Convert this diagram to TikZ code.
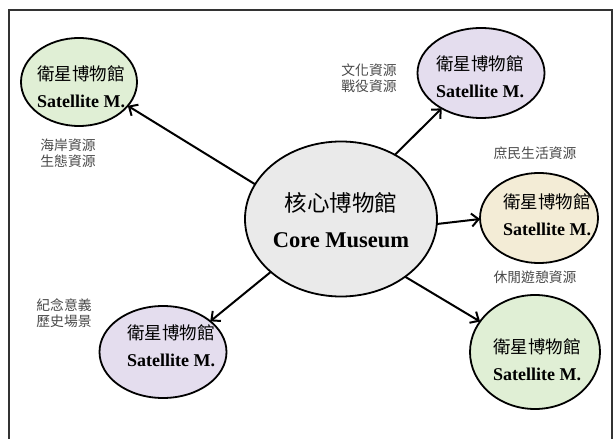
\documentclass[tikz,border=0pt]{standalone}
\usepackage{fontspec}
\setmainfont{Liberation Serif}
\newfontfamily\cjk{Noto Sans CJK TC}
\usetikzlibrary{shapes.geometric,arrows.meta}
\definecolor{greenfill}{HTML}{E0EFD5}
\definecolor{purplefill}{HTML}{E4DDEE}
\definecolor{yellowfill}{HTML}{F3ECD6}
\definecolor{corefill}{HTML}{EAEAEA}
\definecolor{labelgray}{HTML}{4A4A4A}
\definecolor{framegray}{HTML}{333333}
\begin{document}
\begin{tikzpicture}[x=1bp,y=-1bp,
  museum/.style={ellipse, draw=black, line width=1.8bp, inner sep=0pt, outer sep=0pt},
  sattext/.style={align=center, inner sep=0pt, font=\fontsize{17.5bp}{27bp}\selectfont},
  coretextstyle/.style={align=center, inner sep=0pt, font=\fontsize{22.5bp}{36bp}\selectfont},
  link/.style={line width=2bp, -{Straight Barb[length=7bp,width=13bp,line width=2bp]}},
  note/.style={align=center, inner sep=0pt, text=labelgray, font=\cjk\fontsize{13.8bp}{16.5bp}\selectfont}]
\useasboundingbox (0,0) rectangle (616,439);
\fill[white] (0,0) rectangle (616,439);
% frame
\draw[framegray, line width=1.5bp] (9,445) -- (9,10) -- (612,10) -- (612,445);
% museums
\node[museum, fill=corefill, minimum width=192bp, minimum height=155bp] (core) at (341,219) {};
\node[museum, fill=greenfill, minimum width=116bp, minimum height=88bp] (tl) at (79,82) {};
\node[museum, fill=purplefill, minimum width=127bp, minimum height=90bp] (tr) at (481,73) {};
\node[museum, fill=yellowfill, minimum width=118bp, minimum height=90bp] (ye) at (539,218) {};
\node[museum, fill=purplefill, minimum width=127bp, minimum height=92bp] (bl) at (163,352) {};
\node[museum, fill=greenfill, minimum width=130bp, minimum height=114bp] (br) at (535,352) {};
% texts
\node[coretextstyle] (coret) at (341,220) {{\cjk 核心博物館}\\\textbf{Core Museum}};
\node[sattext] (tlt) at (81,87) {{\cjk 衛星博物館}\\{\fontsize{18bp}{27bp}\selectfont\bfseries Satellite M.}};
\node[sattext] (trt) at (480,77) {{\cjk 衛星博物館}\\{\fontsize{18bp}{27bp}\selectfont\bfseries Satellite M.}};
\node[sattext] (yet) at (547,215) {{\cjk 衛星博物館}\\{\fontsize{18bp}{27bp}\selectfont\bfseries Satellite M.}};
\node[sattext] (blt) at (171,346) {{\cjk 衛星博物館}\\{\fontsize{18bp}{27bp}\selectfont\bfseries Satellite M.}};
\node[sattext] (brt) at (537,360) {{\cjk 衛星博物館}\\{\fontsize{18bp}{27bp}\selectfont\bfseries Satellite M.}};
% connectors
\draw[link] (core.158) -- (tl.334);
\draw[link] (core.50) -- (tr.222);
\draw[link] (core.357) -- (ye.181);
\draw[link] (core.217) -- (bl.33);
\draw[link] (core.318) -- (br.151);
% labels
\node[note] (n1) at (68,153) {海岸資源\\生態資源};
\node[note] (n2) at (369,78) {文化資源\\戰役資源};
\node[note] (n3) at (535,153) {庶民生活資源};
\node[note] (n4) at (535,277) {休閒遊憩資源};
\node[note] (n5) at (64,313) {紀念意義\\歷史場景};
\end{tikzpicture}
\end{document}
